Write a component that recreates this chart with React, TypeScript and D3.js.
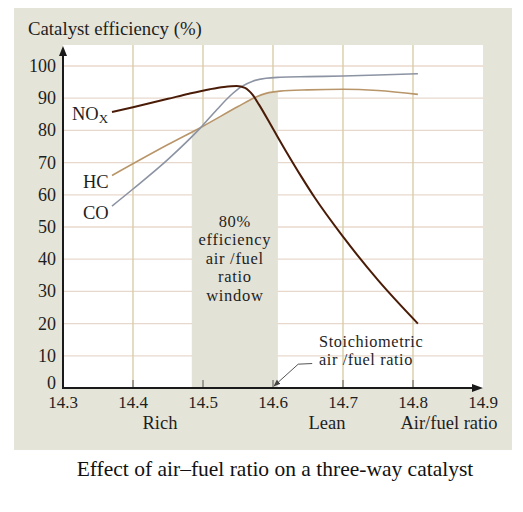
import React from "react";
import * as d3 from "d3";

const X_TICKS = [14.3, 14.4, 14.5, 14.6, 14.7, 14.8, 14.9];
const Y_TICKS = [0, 10, 20, 30, 40, 50, 60, 70, 80, 90, 100];

const NOX_X = [14.37, 14.4, 14.45, 14.48, 14.51, 14.53, 14.548, 14.56, 14.571, 14.58, 14.6, 14.62, 14.64, 14.66, 14.7, 14.75, 14.807];
const NOX_Y = [85.7, 87.2, 89.8, 91.4, 92.8, 93.5, 93.8, 93.2, 91, 88, 80.5, 73, 65.8, 59, 47, 33.5, 20];

const CO_X = [14.37, 14.4, 14.45, 14.496, 14.52, 14.54, 14.555, 14.571, 14.59, 14.61, 14.65, 14.7, 14.75, 14.807];
const CO_Y = [56.5, 61.8, 71, 80.7, 86.5, 91, 93.6, 95.3, 96.2, 96.5, 96.7, 96.9, 97.2, 97.6];

const HC_X = [14.37, 14.45, 14.5, 14.55, 14.575, 14.59, 14.61, 14.65, 14.7, 14.75, 14.807];
const HC_Y = [66, 75.6, 81.3, 87.4, 90.3, 91.5, 92.2, 92.6, 92.8, 92.4, 91.2];

const WINDOW = [14.484, 14.607];
const WINDOW_TEXT = ["80%", "efficiency", "air /fuel", "ratio", "window"];

const W = 523, H = 512;
const FONT = "'Liberation Serif', 'Times New Roman', serif";

export default function App() {
  const x = d3.scaleLinear().domain([14.3, 14.9]).range([63, 483]);
  const y = d3.scaleLinear().domain([0, 100]).range([388, 66]);
  const top = 45;

  const mk = (xs: number[], ys: number[]) => xs.map((v, i) => [v, ys[i]] as [number, number]);
  const nox = mk(NOX_X, NOX_Y);
  const co = mk(CO_X, CO_Y);
  const hc = mk(HC_X, HC_Y);

  const line = d3.line<[number, number]>().x(d => x(d[0])).y(d => y(d[1])).curve(d3.curveMonotoneX);
  const area = d3.area<[number, number]>().x(d => x(d[0])).y0(y(0)).y1(d => y(d[1])).curve(d3.curveMonotoneX);

  const txt = "#1e1e1e";
  const arrowTip = [x(14.6) + 1, y(0) - 2];
  const arrowStart = [x(14.656), y(7.6)];
  const arrowBend = [x(14.636), y(7.4)];

  return (
    <svg width={W} height={H} style={{ position: "absolute", left: 0, top: 0, background: "#fff" }} fontFamily={FONT}>
      <defs>
        <clipPath id="win">
          <rect x={x(WINDOW[0])} y={0} width={x(WINDOW[1]) - x(WINDOW[0])} height={H} />
        </clipPath>
        <marker id="ah" viewBox="0 0 10 10" refX="9" refY="5" markerWidth="7" markerHeight="7" orient="auto">
          <path d="M0,1 L10,5 L0,9 z" fill="#444" />
        </marker>
      </defs>
      <rect x={14} y={8} width={498} height={442} fill="#e5e4d8" />
      <rect x={x(14.3)} y={top} width={x(14.9) - x(14.3)} height={y(0) - top} fill="#ffffff" />
      {Y_TICKS.filter(t => t > 0).map(t => (
        <line key={"h" + t} x1={x(14.3)} x2={x(14.9)} y1={y(t)} y2={y(t)} stroke="#e8d8cc" strokeWidth={1.3} />
      ))}
      {X_TICKS.slice(1, -1).map(t => (
        <line key={"v" + t} x1={x(t)} x2={x(t)} y1={top} y2={y(0)} stroke="#d8cea6" strokeWidth={1.4} />
      ))}
      <path d={area(hc) || ""} clipPath="url(#win)" fill="#e3e2d6" />
      {X_TICKS.slice(1, -1).map(t => (
        <line key={"t" + t} x1={x(t)} x2={x(t)} y1={y(0) - 8} y2={y(0)} stroke="#555" strokeWidth={1} />
      ))}
      {WINDOW_TEXT.map((s, i) => (
        <text key={s} x={(x(WINDOW[0]) + x(WINDOW[1])) / 2} y={227 + i * 18.4} textAnchor="middle" fontSize={16.5} letterSpacing={0.7} fill={txt}>{s}</text>
      ))}
      <path d={line(hc) || ""} fill="none" stroke="#b8966a" strokeWidth={1.6} />
      <path d={line(co) || ""} fill="none" stroke="#8c93a3" strokeWidth={1.6} />
      <path d={line(nox) || ""} fill="none" stroke="#4a1c08" strokeWidth={2} />
      {/* axes */}
      <line x1={x(14.3)} x2={x(14.3)} y1={y(0)} y2={top + 10} stroke="#1a1a1a" strokeWidth={2} />
      <path d={`M${x(14.3)},${top + 1} L${x(14.3) - 4},${top + 11} L${x(14.3) + 4},${top + 11} Z`} fill="#1a1a1a" />
      <line x1={x(14.3) - 1} x2={x(14.9) - 10} y1={y(0)} y2={y(0)} stroke="#1a1a1a" strokeWidth={2} />
      <path d={`M${x(14.9)},${y(0)} L${x(14.9) - 11},${y(0) - 4} L${x(14.9) - 11},${y(0) + 4} Z`} fill="#1a1a1a" />
      {Y_TICKS.map(t => (
        <text key={"yl" + t} x={56} y={y(t) - (t === 0 ? 5 : 0)} dy="0.33em" textAnchor="end" fontSize={18} fill={txt}>{t}</text>
      ))}
      {X_TICKS.map(t => (
        <text key={"xl" + t} x={x(t)} y={408} textAnchor="middle" fontSize={17} fill={txt}>{t.toFixed(1)}</text>
      ))}
      <text x={160} y={429} textAnchor="middle" fontSize={18.5} fill={txt}>Rich</text>
      <text x={327} y={429} textAnchor="middle" fontSize={18.5} fill={txt}>Lean</text>
      <text x={449} y={429} textAnchor="middle" fontSize={18.5} fill={txt}>Air/fuel ratio</text>
      <text x={28} y={35} fontSize={18.8} fill={txt}>Catalyst efficiency (%)</text>
      {/* series labels */}
      <text x={72} y={120} fontSize={18.5} fill={txt}>NO<tspan fontSize={13} dy={3}>X</tspan></text>
      <text x={83} y={188} fontSize={18.5} fill={txt}>HC</text>
      <text x={83} y={219} fontSize={18.5} fill={txt}>CO</text>
      {/* stoichiometric annotation */}
      <text x={319} y={347} fontSize={16.3} letterSpacing={0.6} fill={txt}>Stoichiometric</text>
      <text x={319} y={365} fontSize={16.3} letterSpacing={0.6} fill={txt}>air /fuel ratio</text>
      <path d={`M${arrowStart[0]},${arrowStart[1]} L${arrowBend[0]},${arrowBend[1]} L${arrowTip[0]},${arrowTip[1]}`} fill="none" stroke="#555" strokeWidth={1} markerEnd="url(#ah)" />
      <text x={275} y={476} textAnchor="middle" fontSize={21.5} fill="#111">Effect of air–fuel ratio on a three-way catalyst</text>
    </svg>
  );
}
